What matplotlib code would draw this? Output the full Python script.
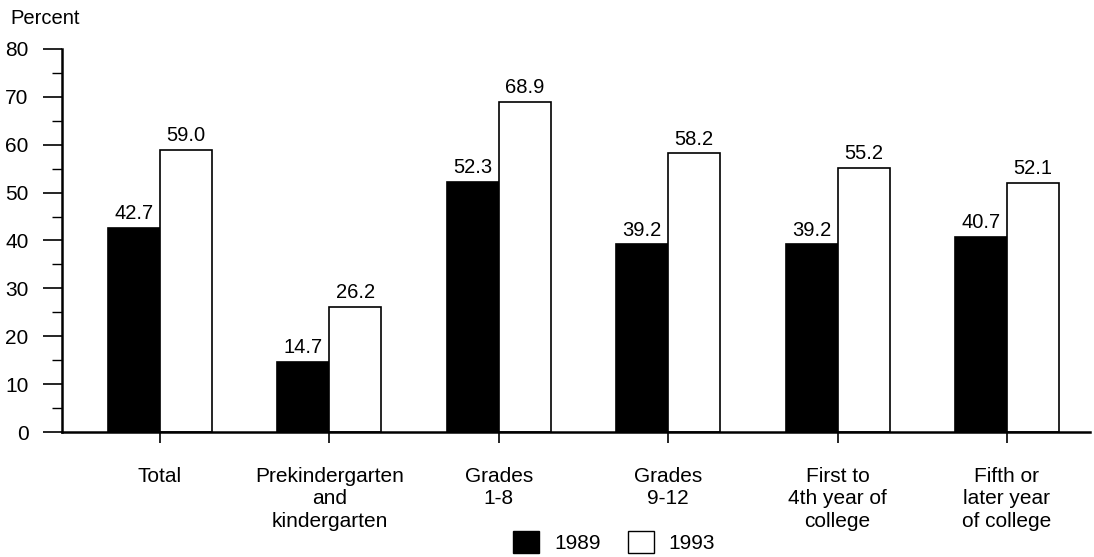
import matplotlib
matplotlib.use("Agg")
import matplotlib.pyplot as plt
from matplotlib.ticker import MultipleLocator
from matplotlib.patches import Patch

categories = ["Total", "Prekindergarten\nand\nkindergarten", "Grades\n1-8", "Grades\n9-12",
              "First to\n4th year of\ncollege", "Fifth or\nlater year\nof college"]
values_1989 = [42.7, 14.7, 52.3, 39.2, 39.2, 40.7]
values_1993 = [59.0, 26.2, 68.9, 58.2, 55.2, 52.1]
series_labels = ["1989", "1993"]

plt.rcParams['font.family'] = ['Liberation Sans', 'DejaVu Sans']
fig = plt.figure(figsize=(10.94, 5.57), dpi=100)
ax = fig.add_axes([62/1094, 1-432/557, (1090-62)/1094, (432-49)/557])

x = list(range(len(categories)))
w = 0.307
b1 = ax.bar([i - w/2 for i in x], values_1989, width=w, color='black', edgecolor='black', linewidth=1.2)
b2 = ax.bar([i + w/2 for i in x], values_1993, width=w, color='white', edgecolor='black', linewidth=1.2)

for rects, vals in ((b1, values_1989), (b2, values_1993)):
    for r, v in zip(rects, vals):
        ax.text(r.get_x() + r.get_width()/2, v + 1.0, f"{v:.1f}", ha='center', va='bottom', fontsize=14.5)

ax.set_xlim(-0.578, 5.49)
ax.set_ylim(0, 80)
ax.yaxis.set_major_locator(MultipleLocator(10))
ax.yaxis.set_minor_locator(MultipleLocator(5))
ax.tick_params(axis='y', which='major', length=14, width=1.2, labelsize=15, pad=10)
ax.tick_params(axis='y', which='minor', length=7, width=1.0)
ax.set_xticks(x)
ax.set_xticklabels(categories, fontsize=15, linespacing=1.24)
ax.tick_params(axis='x', length=8, width=1.2, pad=17)

for s in ['top', 'right']:
    ax.spines[s].set_visible(False)
ax.spines['left'].set_linewidth(1.8)
ax.spines['bottom'].set_linewidth(1.8)

fig.text(10/1094, 1-19/557, "Percent", fontsize=14.5, ha='left', va='center')

handles = [Patch(facecolor='black', edgecolor='black'), Patch(facecolor='white', edgecolor='black')]
fig.legend(handles, series_labels, loc='center', bbox_to_anchor=(614/1094, 1-542/557), ncol=2,
           frameon=False, fontsize=15, handlelength=1.25, handleheight=1.25, columnspacing=1.3,
           handletextpad=0.7, borderpad=0.1)

fig.savefig("out.png", dpi=100)
